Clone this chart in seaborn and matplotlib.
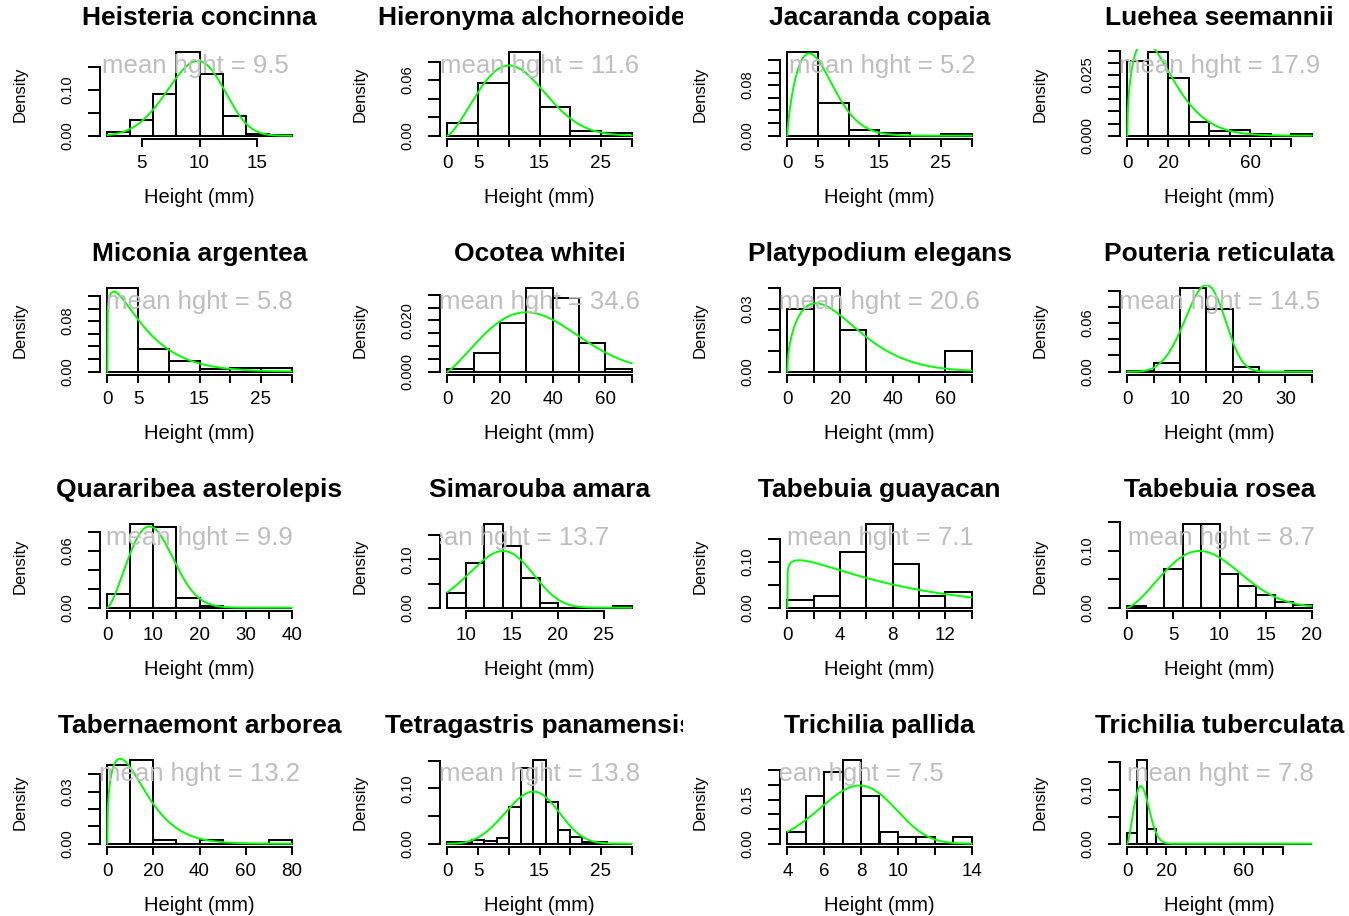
import numpy as np
import pandas as pd
import matplotlib
matplotlib.use("Agg")
import matplotlib.pyplot as plt
import seaborn as sns
from matplotlib.transforms import Bbox, TransformedBbox

# ---- data -------------------------------------------------------------
species = [
    "Heisteria concinna", "Hieronyma alchorneoides", "Jacaranda copaia", "Luehea seemannii",
    "Miconia argentea", "Ocotea whitei", "Platypodium elegans", "Pouteria reticulata",
    "Quararibea asterolepis", "Simarouba amara", "Tabebuia guayacan", "Tabebuia rosea",
    "Tabernaemont arborea", "Tetragastris panamensis", "Trichilia pallida", "Trichilia tuberculata",
]
mean_height = [9.5, 11.6, 5.2, 17.9, 5.8, 34.6, 20.6, 14.5,
               9.9, 13.7, 7.1, 8.7, 13.2, 13.8, 7.5, 7.8]

# histogram breaks: first break and bin width
bin_start = [2, 0, 0, 0, 0, 0, 0, 0, 0, 8, 0, 0, 0, 0, 4, 0]
bin_width = [2, 5, 5, 10, 5, 10, 10, 5, 5, 2, 2, 2, 10, 2, 1, 5]

# bar densities per species
bar_density = [
    [0.009, 0.034, 0.090, 0.182, 0.135, 0.044, 0.004, 0.002],
    [0.0135, 0.057, 0.090, 0.031, 0.0047, 0.0033],
    [0.132, 0.052, 0.0095, 0.0045, 0.0, 0.002],
    [0.0307, 0.0344, 0.0240, 0.0055, 0.0018, 0.0024, 0.0006, 0.0, 0.0006],
    [0.132, 0.036, 0.017, 0.0037, 0.0053, 0.0053],
    [0.0009, 0.0071, 0.0188, 0.0325, 0.0287, 0.0112, 0.0009],
    [0.03, 0.04, 0.02, 0.0, 0.0, 0.0, 0.01],
    [0.0008, 0.0113, 0.103, 0.077, 0.0063, 0.0, 0.0008],
    [0.0145, 0.088, 0.0855, 0.010, 0.002, 0.0, 0.0, 0.0],
    [0.030, 0.0915, 0.1725, 0.127, 0.0613, 0.0092, 0.0, 0.0, 0.0, 0.0042],
    [0.017, 0.0244, 0.1207, 0.182, 0.0948, 0.0244, 0.0333],
    [0.003, 0.0, 0.0677, 0.1467, 0.1467, 0.0599, 0.0377, 0.0216, 0.0108, 0.0048],
    [0.0455, 0.048, 0.0022, 0.0, 0.0022, 0.0, 0.0, 0.0022],
    [0.003, 0.003, 0.0075, 0.005, 0.011, 0.066, 0.137, 0.151, 0.076, 0.024, 0.012, 0.003, 0.003, 0.0, 0.0],
    [0.0414, 0.163, 0.245, 0.284, 0.162, 0.0414, 0.0218, 0.0218, 0.0, 0.0218],
    [0.019, 0.154, 0.028, 0.0, 0.0, 0.0, 0.0, 0.0, 0.0, 0.0,
     0.0, 0.0, 0.0, 0.0, 0.0, 0.0, 0.0, 0.0, 0.0],
]

# fitted Weibull density (shape, scale) drawn over each histogram
weib_shape = [4.5, 2.35, 1.7, 1.45, 1.15, 2.2, 1.5, 4.5, 2.4, 4.6, 1.1, 2.4, 1.35, 3.75, 4.4, 2.3]
weib_scale = [10.41, 12.7, 6.0, 19.0, 6.1, 39.5, 22.7, 15.86, 11.4, 14.8, 7.8, 9.8, 15.0, 15.2, 8.4, 8.9]

# axis ticks and their labels ("" = tick without label)
x_ticks = [
    [5, 10, 15], [0, 5, 10, 15, 20, 25, 30], [0, 5, 10, 15, 20, 25, 30], [0, 10, 20, 30, 40, 50, 60, 70, 80],
    [0, 5, 10, 15, 20, 25, 30], [0, 10, 20, 30, 40, 50, 60, 70], [0, 10, 20, 30, 40, 50, 60, 70],
    [0, 5, 10, 15, 20, 25, 30, 35],
    [0, 5, 10, 15, 20, 25, 30, 35, 40], [10, 15, 20, 25], [0, 2, 4, 6, 8, 10, 12, 14], [0, 5, 10, 15, 20],
    [0, 20, 40, 60, 80], [0, 5, 10, 15, 20, 25, 30], [4, 6, 8, 10, 12, 14], [0, 10, 20, 30, 40, 50, 60, 70, 80],
]
x_tick_labels = [
    ["5", "10", "15"], ["0", "5", "", "15", "", "25", ""], ["0", "5", "", "15", "", "25", ""],
    ["0", "", "20", "", "", "", "60", "", ""],
    ["0", "5", "", "15", "", "25", ""], ["0", "", "20", "", "40", "", "60", ""],
    ["0", "", "20", "", "40", "", "60", ""], ["0", "", "10", "", "20", "", "30", ""],
    ["0", "", "10", "", "20", "", "30", "", "40"], ["10", "15", "20", "25"],
    ["0", "", "4", "", "8", "", "12", ""], ["0", "5", "10", "15", "20"],
    ["0", "20", "40", "60", "80"], ["0", "5", "", "15", "", "25", ""], ["4", "6", "8", "10", "", "14"],
    ["0", "", "20", "", "", "", "60", "", ""],
]
y_ticks = [
    [0, 0.05, 0.10, 0.15], [0, 0.02, 0.04, 0.06, 0.08], [0, 0.02, 0.04, 0.06, 0.08, 0.10, 0.12],
    [0, 0.005, 0.010, 0.015, 0.020, 0.025, 0.030, 0.035],
    [0, 0.02, 0.04, 0.06, 0.08, 0.10, 0.12], [0, 0.005, 0.010, 0.015, 0.020, 0.025, 0.030],
    [0, 0.01, 0.02, 0.03, 0.04], [0, 0.02, 0.04, 0.06, 0.08, 0.10],
    [0, 0.02, 0.04, 0.06, 0.08], [0, 0.05, 0.10, 0.15], [0, 0.05, 0.10, 0.15], [0, 0.05, 0.10, 0.15],
    [0, 0.01, 0.02, 0.03, 0.04], [0, 0.05, 0.10, 0.15], [0, 0.05, 0.10, 0.15, 0.20, 0.25],
    [0, 0.05, 0.10, 0.15],
]
y_tick_labels = [
    ["0.00", "", "0.10", ""], ["0.00", "", "", "0.06", ""], ["0.00", "", "", "", "0.08", "", ""],
    ["0.000", "", "", "", "", "0.025", "", ""],
    ["0.00", "", "", "", "0.08", "", ""], ["0.000", "", "", "", "0.020", "", ""],
    ["0.00", "", "", "0.03", ""], ["0.00", "", "", "0.06", "", ""],
    ["0.00", "", "", "0.06", ""], ["0.00", "", "0.10", ""], ["0.00", "", "0.10", ""], ["0.00", "", "0.10", ""],
    ["0.00", "", "", "0.03", ""], ["0.00", "", "0.10", ""], ["0.00", "", "", "0.15", "", ""],
    ["0.00", "", "0.10", ""],
]

# horizontal centre of the "mean hght" note, in data units
note_x = [9.6, 15, 15.5, 45, 15, 35, 35, 17.5, 20, 14.6, 7.1, 10.2, 40, 15, 7.4, 48]

# ---- styling ----------------------------------------------------------
sns.set_theme(style="white")
plt.rcParams["font.family"] = ["Liberation Sans", "DejaVu Sans"]
LW = 1.4
W, H = 1349, 916

fig = plt.figure(figsize=(W / 100, H / 100), dpi=100)
fig.patch.set_facecolor("white")


def weibull_pdf(x, k, lam):
    z = np.clip(x, 0, None) / lam
    return (k / lam) * z ** (k - 1) * np.exp(-z ** k)


for i, name in enumerate(species):
    r, c = divmod(i, 4)
    left, top = 100 + 340 * c, 49 + 236 * r
    ax = fig.add_axes([left / W, 1 - (top + 90) / H, 199 / W, 90 / H])
    ax.set_facecolor("none")

    dens = np.array(bar_density[i])
    edges = bin_start[i] + bin_width[i] * np.arange(len(dens) + 1)
    bars = pd.DataFrame({"height": (edges[:-1] + edges[1:]) / 2, "density": dens})

    sns.histplot(data=bars, x="height", weights="density", bins=[float(e) for e in edges],
                 stat="count", color="white", edgecolor="black", linewidth=LW, alpha=1, ax=ax)

    xs = np.linspace(edges[0], edges[-1], 500)
    curve = pd.DataFrame({"height": xs, "pdf": weibull_pdf(xs, weib_shape[i], weib_scale[i])})
    sns.lineplot(data=curve, x="height", y="pdf", color="#00FF00", linewidth=LW, ax=ax)

    span = edges[-1] - edges[0]
    m = dens.max()
    ax.set_xlim(edges[0] - 0.04 * span, edges[-1] + 0.04 * span)
    ax.set_ylim(-0.04 * m, 1.04 * m)

    ax.set_xticks(x_ticks[i], x_tick_labels[i])
    ax.set_yticks(y_ticks[i], y_tick_labels[i])
    ax.tick_params(axis="x", direction="out", length=5.8, width=LW, pad=5.5,
                   labelsize=13.5, colors="black", bottom=True)
    ax.tick_params(axis="y", direction="out", length=8.6, width=LW, pad=10,
                   labelsize=10.5, colors="black", left=True, labelrotation=90)
    for lab in ax.get_yticklabels():
        lab.set_va("center")
    ax.set_xlabel("")
    ax.set_ylabel("")
    ax.grid(False)
    for s in ("top", "right"):
        ax.spines[s].set_visible(False)
    ax.spines["left"].set_bounds(y_ticks[i][0], y_ticks[i][-1])
    ax.spines["bottom"].set_bounds(x_ticks[i][0], x_ticks[i][-1])
    for s in ("left", "bottom"):
        ax.spines[s].set_linewidth(LW)
        ax.spines[s].set_color("black")

    ax.text(note_x[i], 0.81, f"mean hght = {mean_height[i]}", transform=ax.get_xaxis_transform(),
            ha="center", va="center", color="#BEBEBE", fontsize=18.5, clip_on=True, zorder=5)

    ax.text(0.5, -0.65, "Height (mm)", transform=ax.transAxes, ha="center", va="center",
            fontsize=14.5, color="black")
    ax.text(-0.402, 0.5, "Density", transform=ax.transAxes, ha="center", va="center",
            rotation=90, fontsize=12, color="black")

    title = fig.text((left + 99.5) / W, 1 - (top - 31) / H, name, ha="center", va="center",
                     fontsize=19, fontweight="bold", color="black")
    cell = Bbox.from_extents((340 * c + 3) / W, 1 - (236 * r + 236) / H,
                             (340 * c + 343) / W, 1 - (236 * r - 10) / H)
    title.set_clip_box(TransformedBbox(cell, fig.transFigure))
    title.set_clip_on(True)

fig.savefig("out.png", dpi=100, facecolor="white")
